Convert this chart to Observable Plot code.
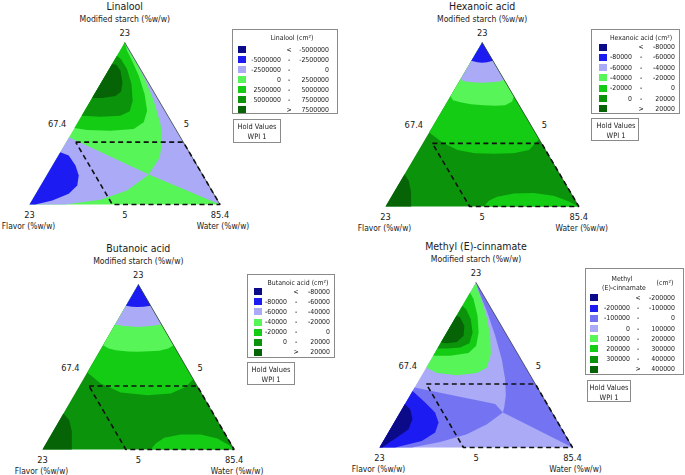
<!DOCTYPE html>
<html><head><meta charset="utf-8">
<script src="https://cdn.jsdelivr.net/npm/d3@7"></script>
<script src="https://cdn.jsdelivr.net/npm/@observablehq/plot@0.6"></script>
<style>
body{margin:0;background:#fff;}
#root{position:relative;width:685px;height:475px;overflow:hidden;background:#fff;font-family:"DejaVu Sans Condensed","DejaVu Sans",sans-serif;color:#1a1a1a;}
.panel{position:absolute;}
.box{position:absolute;border:1px solid #8a8a8a;background:transparent;box-sizing:border-box;}
.box span{position:absolute;white-space:nowrap;line-height:1;will-change:transform;color:#1a1a1a;}
.sw{position:absolute;width:8px;height:7px;}
</style></head>
<body><div id="root"></div>
<script>
// ---------------- data ----------------
const panelTitles = ["Linalool", "Hexanoic acid", "Butanoic acid", "Methyl (E)-cinnamate"];
const topAxisName = "Modified starch (%w/w)";
const leftAxisName = "Flavor (%w/w)";
const rightAxisName = "Water (%w/w)";
// tick labels and their ternary positions [starch, water] (flavor = remainder)
const tickText = ["23", "67.4", "5", "23", "5", "85.4"];
const tickPos = [[1, 0], [0.5, 0], [0.5, 0.5], [0, 0], [0, 0.5], [0, 1]];

// contour break values
const linaloolBreaks = [-5000000, -2500000, 0, 2500000, 5000000, 7500000];
const hexanoicBreaks = [-80000, -60000, -40000, -20000, 0, 20000];
const butanoicBreaks = [-80000, -60000, -40000, -20000, 0, 20000];
const methylBreaks = [-200000, -100000, 0, 100000, 200000, 300000, 400000];

// band colours
const colors7 = ["#0b0b8a", "#1b1bf2", "#aaaaf7", "#58f558", "#14cc14", "#0b930b", "#066406"];
const colors8 = ["#0b0b8a", "#1b1bf2", "#7474f2", "#aaaaf7", "#58f558", "#14cc14", "#0b930b", "#066406"];

// experimental constraint region (dashed), [starch, water] fractions
const constraintRegion = [[0.385, 0.05], [0.385, 0.615], [0, 1], [0, 0.435], [0.385, 0.05]];

// contour band regions: level index + boundary points [starch, water]
const linaloolRegions = [
  {level: 3, pts: [[1, 0], [0, 0], [0, 1]]},
  {level: 2, pts: [[1, 0], [0, 1], [0.185, 0.534], [0.292, 0.538], [0.394, 0.499], [0.497, 0.439], [0.641, 0.332], [0.764, 0.227], [0.867, 0.131], [0.949, 0.047]]},
  {level: 2, pts: [[0.415, 0], [0, 0], [0, 0.188], [0.029, 0.357], [0.086, 0.469], [0.185, 0.534]]},
  {level: 1, pts: [[0.323, 0], [0, 0], [0, 0.031], [0.025, 0.107], [0.066, 0.173], [0.117, 0.192], [0.179, 0.169], [0.241, 0.121], [0.302, 0.055]]},
  {level: 4, pts: [[1, 0], [0.472, 0], [0.46, 0.072], [0.456, 0.197], [0.466, 0.314], [0.507, 0.346], [0.579, 0.328], [0.682, 0.263], [0.795, 0.176], [0.887, 0.095], [0.949, 0.038]]},
  {level: 5, pts: [[0.918, 0], [0.548, 0], [0.542, 0.101], [0.548, 0.203], [0.575, 0.239], [0.641, 0.221], [0.743, 0.164], [0.836, 0.094], [0.897, 0.032]]},
  {level: 6, pts: [[0.867, 0], [0.657, 0], [0.657, 0.052], [0.669, 0.117], [0.698, 0.132], [0.754, 0.111], [0.825, 0.065], [0.862, 0.025]]}
];
const hexanoicRegions = [
  {level: 5, pts: [[1, 0], [0, 0], [0, 1]]},
  {level: 4, pts: [[1, 0], [0.451, 0], [0.39, 0.10], [0.345, 0.2], [0.325, 0.3], [0.322, 0.4], [0.325, 0.5], [0.345, 0.57], [0.411, 0.589]]},
  {level: 3, pts: [[1, 0], [0.672, 0], [0.648, 0.025], [0.635, 0.07], [0.624, 0.13], [0.617, 0.2], [0.614, 0.26], [0.618, 0.31], [0.64, 0.335], [0.672, 0.328]]},
  {level: 2, pts: [[1, 0], [0.775, 0], [0.762, 0.03], [0.757, 0.07], [0.755, 0.12], [0.757, 0.17], [0.762, 0.21], [0.775, 0.225]]},
  {level: 1, pts: [[1, 0], [0.888, 0], [0.880, 0.035], [0.877, 0.062], [0.880, 0.085], [0.888, 0.112]]},
  {level: 4, pts: [[0, 0.509], [0.035, 0.517], [0.059, 0.548], [0.079, 0.624], [0.083, 0.725], [0.065, 0.838], [0.035, 0.922], [0.01, 0.978], [0, 1]]},
  {level: 6, pts: [[0.197, 0], [0, 0], [0, 0.133], [0.04, 0.112], [0.085, 0.09], [0.157, 0.042]]}
];
const butanoicRegions = [
  {level: 5, pts: [[1, 0], [0, 0], [0, 1]]},
  {level: 4, pts: [[1, 0], [0.467, 0], [0.4, 0.104], [0.345, 0.236], [0.329, 0.384], [0.339, 0.5], [0.380, 0.558], [0.426, 0.574]]},
  {level: 3, pts: [[1, 0], [0.632, 0], [0.612, 0.04], [0.602, 0.082], [0.594, 0.15], [0.592, 0.2], [0.595, 0.26], [0.598, 0.31], [0.612, 0.35], [0.632, 0.368]]},
  {level: 2, pts: [[1, 0], [0.758, 0], [0.750, 0.042], [0.745, 0.09], [0.743, 0.124], [0.745, 0.16], [0.750, 0.199], [0.758, 0.242]]},
  {level: 1, pts: [[1, 0], [0.871, 0], [0.865, 0.035], [0.863, 0.064], [0.865, 0.095], [0.871, 0.129]]},
  {level: 4, pts: [[0, 0.565], [0.036, 0.573], [0.071, 0.6], [0.091, 0.676], [0.091, 0.781], [0.067, 0.88], [0.026, 0.961], [0, 1]]},
  {level: 6, pts: [[0.218, 0], [0, 0], [0, 0.153], [0.05, 0.128], [0.107, 0.1], [0.178, 0.05]]}
];
const methylRegions = [
  {level: 3, pts: [[1, 0], [0, 0], [0, 1]]},
  {level: 2, pts: [[1, 0], [0, 1], [0.212, 0.533], [0.242, 0.525], [0.313, 0.498], [0.414, 0.444], [0.535, 0.366], [0.677, 0.261], [0.828, 0.142], [0.949, 0.039]]},
  {level: 2, pts: [[0.364, 0], [0, 0], [0, 0.168], [0.034, 0.297], [0.081, 0.412], [0.141, 0.486], [0.212, 0.533], [0.263, 0.468]]},
  {level: 1, pts: [[0.343, 0], [0, 0], [0, 0.081], [0.040, 0.199], [0.091, 0.243], [0.152, 0.230], [0.212, 0.182], [0.273, 0.100]]},
  {level: 0, pts: [[0.263, 0], [0, 0], [0, 0.015], [0.03, 0.035], [0.061, 0.06], [0.111, 0.095], [0.172, 0.085], [0.232, 0.043]]},
  {level: 4, pts: [[1, 0], [0.485, 0], [0.451, 0.072], [0.438, 0.182], [0.451, 0.279], [0.485, 0.314], [0.566, 0.294], [0.677, 0.235], [0.788, 0.162], [0.889, 0.086], [0.960, 0.028]]},
  {level: 5, pts: [[0.939, 0], [0.556, 0], [0.556, 0.088], [0.572, 0.175], [0.616, 0.193], [0.697, 0.165], [0.798, 0.109], [0.899, 0.038]]},
  {level: 6, pts: [[0.859, 0], [0.6, 0], [0.6, 0.049], [0.606, 0.115], [0.632, 0.15], [0.697, 0.134], [0.778, 0.084], [0.838, 0.03]]},
  {level: 7, pts: [[0.798, 0], [0.636, 0], [0.632, 0.033], [0.640, 0.081], [0.677, 0.097], [0.737, 0.071], [0.788, 0.024]]}
];

// ---------------- layout ----------------
const FONT = "DejaVu Sans Condensed, DejaVu Sans, sans-serif";
const panels = [
  {title: panelTitles[0], regions: linaloolRegions, colors: colors7, breaks: linaloolBreaks,
   box: {left: 29, right: 219.5, top: 42, bottom: 204},
   legend: {left: 232, top: 29, w: 106, h: 85, row0: 19.5, step: 10, sw: 5, lower: 47.5, sign: 56, upper: 96,
            titles: [{text: "Linalool  (cm²)", x: 59, y: 8}]},
   hold: {left: 232.5, top: 119, w: 48.5, h: 24}},
  {title: panelTitles[1], regions: hexanoicRegions, colors: colors7, breaks: hexanoicBreaks,
   box: {left: 385, right: 578.3, top: 41.7, bottom: 205.7},
   legend: {left: 590.5, top: 28.5, w: 89, h: 85.5, row0: 17.5, step: 10.3, sw: 7, lower: 40.5, sign: 49.5, upper: 83,
            titles: [{text: "Hexanoic acid (cm²)", x: 49, y: 8}]},
   hold: {left: 591, top: 117.5, w: 48, h: 23.5}},
  {title: panelTitles[2], regions: butanoicRegions, colors: colors7, breaks: butanoicBreaks,
   box: {left: 41.7, right: 233.3, top: 284.3, bottom: 449.3},
   legend: {left: 247, top: 274.3, w: 88, h: 84, row0: 16.5, step: 10.1, sw: 6, lower: 38.5, sign: 47.5, upper: 81.5,
            titles: [{text: "Butanoic acid (cm²)", x: 50, y: 7.5}]},
   hold: {left: 247, top: 362.3, w: 47.5, h: 23}},
  {title: panelTitles[3], regions: methylRegions, colors: colors8, breaks: methylBreaks,
   box: {left: 379.3, right: 572.3, top: 281.7, bottom: 446.7},
   legend: {left: 585, top: 268.3, w: 99, h: 107, row0: 28.7, step: 10.2, sw: 4, lower: 44, sign: 52, upper: 89,
            titles: [{text: "Methyl", x: 36, y: 9.5}, {text: "(E)-cinnamate", x: 38, y: 19}, {text: "(cm²)", x: 79, y: 14}]},
   hold: {left: 587, top: 379.5, w: 43.5, h: 22.5}}
];

// ternary [starch, water] -> cartesian triangle coordinates
const toXY = p => ({x: p[1] + p[0] / 2, y: p[0]});

const root = document.getElementById("root");

function textMark(pos, text, dx, dy, size, extra = {}) {
  return Plot.text([toXY(pos)], {x: "x", y: "y", text: () => text, dx, dy, fontSize: size,
    textAnchor: "middle", lineAnchor: "middle", fill: "#1a1a1a", fontFamily: FONT, ...extra});
}

function drawPanel(P) {
  const ml = 40, mr = 40, mt = 46, mb = 30;
  const w = P.box.right - P.box.left, h = P.box.bottom - P.box.top;
  const rows = [];
  P.regions.forEach((r, i) => r.pts.forEach(p => rows.push({id: i, level: r.level, ...toXY(p)})));
  const chart = Plot.plot({
    width: w + ml + mr, height: h + mt + mb,
    marginLeft: ml, marginRight: mr, marginTop: mt, marginBottom: mb,
    x: {domain: [0, 1], axis: null},
    y: {domain: [0, 1], axis: null},
    color: {type: "ordinal", domain: d3.range(P.colors.length), range: P.colors},
    style: {fontFamily: FONT, overflow: "visible", background: "transparent"},
    marks: [
      Plot.line(rows, {x: "x", y: "y", z: "id", fill: "level", stroke: "none", curve: "linear"}),
      Plot.line([[1, 0], [0, 1]].map(toXY), {x: "x", y: "y", stroke: "#333", strokeWidth: 0.7}),
      Plot.line(constraintRegion.map(toXY), {x: "x", y: "y", stroke: "#111", strokeWidth: 1.6,
        strokeDasharray: "5,3.5", strokeLinecap: "butt", strokeLinejoin: "miter"}),
      textMark([1, 0], P.title, 0, -36, 10.5),
      textMark([1, 0], topAxisName, 0, -23, 8.6),
      textMark(tickPos[0], tickText[0], 0, -9, 9.2),
      textMark(tickPos[1], tickText[1], -20, 1, 9.2),
      textMark(tickPos[2], tickText[2], 14, 1, 9.2),
      textMark(tickPos[3], tickText[3], 0, 11, 9.2),
      textMark(tickPos[4], tickText[4], 0, 11, 9.2),
      textMark(tickPos[5], tickText[5], 0, 11, 9.2),
      textMark([0, 0], leftAxisName, -1, 22, 8.4),
      textMark([0, 1], rightAxisName, 3, 22, 8.4)
    ]
  });
  const div = document.createElement("div");
  div.className = "panel";
  Object.assign(div.style, {left: (P.box.left - ml) + "px", top: (P.box.top - mt) + "px", width: (w + ml + mr) + "px"});
  div.appendChild(chart);
  root.appendChild(div);
  drawLegend(P);
}

function span(parent, text, x, y, align, size) {
  const s = document.createElement("span");
  s.textContent = text;
  s.style.left = x + "px";
  s.style.top = y + "px";
  s.style.fontSize = size + "px";
  const tx = align === "right" ? "-100%" : align === "center" ? "-50%" : "0";
  s.style.transform = `translate(${tx},-50%)`;
  parent.appendChild(s);
}

function drawLegend(P) {
  const L = P.legend, n = P.colors.length, fs = 6.9;
  const box = document.createElement("div");
  box.className = "box";
  Object.assign(box.style, {left: L.left + "px", top: L.top + "px", width: L.w + "px", height: L.h + "px"});
  L.titles.forEach(t => span(box, t.text, t.x, t.y, "center", fs));
  for (let i = 0; i < n; i++) {
    const y = L.row0 + L.step * i;
    const sw = document.createElement("div");
    sw.className = "sw";
    Object.assign(sw.style, {left: L.sw + "px", top: (y - 3.5) + "px", background: P.colors[i]});
    box.appendChild(sw);
    if (i === 0) {
      span(box, "<", L.sign, y, "center", fs);
      span(box, String(P.breaks[0]), L.upper, y, "right", fs);
    } else if (i === n - 1) {
      span(box, ">", L.sign, y, "center", fs);
      span(box, String(P.breaks[n - 2]), L.upper, y, "right", fs);
    } else {
      span(box, String(P.breaks[i - 1]), L.lower, y, "right", fs);
      span(box, "-", L.sign, y, "center", fs);
      span(box, String(P.breaks[i]), L.upper, y, "right", fs);
    }
  }
  root.appendChild(box);
  const H = P.hold;
  const hb = document.createElement("div");
  hb.className = "box";
  Object.assign(hb.style, {left: H.left + "px", top: H.top + "px", width: H.w + "px", height: H.h + "px"});
  span(hb, "Hold Values", H.w / 2 - 0.5, 7, "center", 7.4);
  span(hb, "WPI  1", H.w / 2 - 0.5, 17, "center", 7.4);
  root.appendChild(hb);
}

panels.forEach(drawPanel);
</script></body></html>
